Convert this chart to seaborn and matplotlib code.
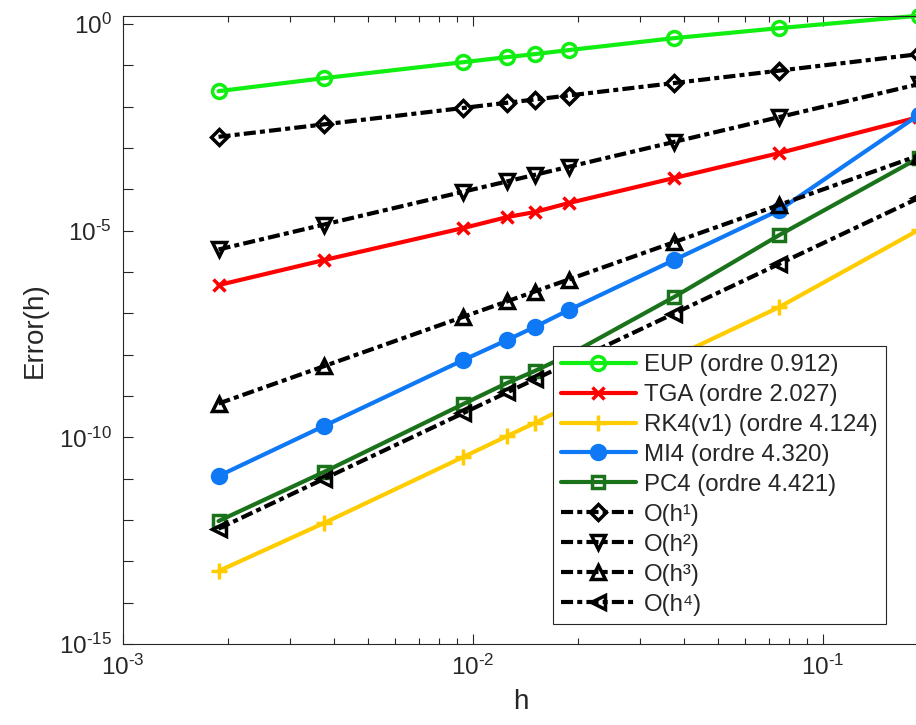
import numpy as np
import matplotlib
matplotlib.use('Agg')
import matplotlib.pyplot as plt
import seaborn as sns
from matplotlib.ticker import LogLocator, FixedLocator, FuncFormatter, NullFormatter, NullLocator

# step sizes h
h = [0.001875, 0.00375, 0.009375, 0.0125, 0.015, 0.01875, 0.0375, 0.075, 0.1875]

# errors of each scheme
err_eup = [0.0239, 0.0493, 0.120, 0.159, 0.188, 0.235, 0.458, 0.80, 1.6]
err_tga = [4.84e-7, 1.95e-6, 1.16e-5, 2.14e-5, 2.83e-5, 4.67e-5, 1.88e-4, 7.57e-4, 5.62e-3]
err_rk4 = [5.82e-14, 8.44e-13, 3.34e-11, 1.07e-10, 2.22e-10, 5.71e-10, 8.77e-9, 1.42e-7, 1.04e-5]
err_mi4 = [1.16e-11, 1.88e-10, 7.41e-9, 2.26e-8, 4.67e-8, 1.20e-7, 1.95e-6, 3.16e-5, 6.28e-3]
err_pc4 = [9.44e-13, 1.45e-11, 6.39e-10, 2.06e-9, 4.02e-9, 9.80e-9, 2.48e-7, 7.85e-6, 5.73e-4]

# reference slopes
ref_o1 = [1.875e-3, 3.75e-3, 9.375e-3, 1.25e-2, 1.5e-2, 1.875e-2, 3.75e-2, 7.5e-2, 1.875e-1]
ref_o2 = [3.52e-6, 1.41e-5, 8.79e-5, 1.56e-4, 2.25e-4, 3.52e-4, 1.41e-3, 5.63e-3, 3.52e-2]
ref_o3 = [6.59e-10, 5.27e-9, 8.24e-8, 1.95e-7, 3.38e-7, 6.59e-7, 5.27e-6, 4.22e-5, 6.59e-4]
ref_o4 = [6.18e-13, 9.89e-12, 3.86e-10, 1.22e-9, 2.53e-9, 6.18e-9, 9.89e-8, 1.58e-6, 6.18e-5]

labels = ['EUP (ordre 0.912)', 'TGA (ordre 2.027)', 'RK4(v1) (ordre 4.124)',
          'MI4 (ordre 4.320)', 'PC4 (ordre 4.421)',
          'O(h¹)', 'O(h²)', 'O(h³)', 'O(h⁴)']

sns.set_style('ticks')
plt.rcParams['font.family'] = ['Liberation Sans', 'DejaVu Sans']
plt.rcParams['mathtext.fontset'] = 'custom'
plt.rcParams['mathtext.rm'] = 'Liberation Sans'
plt.rcParams['mathtext.it'] = 'Liberation Sans:italic'
plt.rcParams['mathtext.bf'] = 'Liberation Sans:bold'
plt.rcParams['axes.unicode_minus'] = False

txt = '#262626'
dashdot = (0, (2.9, 1.0, 1.2, 1.0))

fig = plt.figure(figsize=(9.16, 7.25), dpi=100)
ax = fig.add_axes([123 / 916, 81 / 725, 795.5 / 916, 628.3 / 725])

# (values, label, color, marker, size, face, line style)
series = [
    (err_eup, labels[0], '#11ee11', 'o', 10, 'none', '-'),
    (err_tga, labels[1], '#ff0000', 'x', 9, 'none', '-'),
    (err_rk4, labels[2], '#ffcc00', '+', 11, 'none', '-'),
    (err_mi4, labels[3], '#0f78f5', 'o', 10, '#0f78f5', '-'),
    (err_pc4, labels[4], '#1a731a', 's', 9, 'none', '-'),
    (ref_o1, labels[5], 'black', 'D', 8, 'none', dashdot),
    (ref_o2, labels[6], 'black', 'v', 10, 'none', dashdot),
    (ref_o3, labels[7], 'black', '^', 10, 'none', dashdot),
    (ref_o4, labels[8], 'black', '<', 10, 'none', dashdot),
]

for vals, lab, col, mk, ms, mfc, ls in series:
    sns.lineplot(x=h, y=vals, ax=ax, color=col, marker=mk, markersize=ms,
                 markerfacecolor=mfc, markeredgecolor=col, markeredgewidth=2.5,
                 linewidth=3, linestyle=ls, label=lab, estimator=None,
                 sort=False, errorbar=None, clip_on=False)

ax.set_xscale('log')
ax.set_yscale('log')
ax.set_xlim(1e-3, 0.1875)
ax.set_ylim(1e-15, 1.6)

ax.xaxis.set_major_locator(LogLocator(base=10))
ax.xaxis.set_minor_locator(LogLocator(base=10, subs=np.arange(2, 10)))
ax.xaxis.set_minor_formatter(NullFormatter())


def xlab(v, pos):
    k = int(round(np.log10(v)))
    return '$\\mathdefault{10^{\\text{%d}}}$' % k


def ylab(v, pos):
    k = int(round(np.log10(v)))
    return '$\\mathdefault{10^{\\text{%d}}}$' % k if k % 5 == 0 else ''


ax.xaxis.set_major_formatter(FuncFormatter(xlab))
ax.yaxis.set_major_locator(FixedLocator([10.0 ** k for k in range(-15, 1)]))
ax.yaxis.set_minor_locator(NullLocator())
ax.yaxis.set_major_formatter(FuncFormatter(ylab))

ax.tick_params(which='both', direction='in', top=True, right=False,
               colors=txt, labelcolor=txt, width=0.8)
ax.tick_params(which='major', length=7, labelsize=17.5, pad=8)
ax.tick_params(which='minor', length=4)
for sp in ax.spines.values():
    sp.set_color(txt)
    sp.set_linewidth(0.8)

ax.set_xlabel('h', fontsize=20, color=txt, labelpad=6)
ax.set_ylabel('Error(h)', fontsize=20, color=txt, labelpad=8)

leg = ax.legend(loc='upper left', bbox_to_anchor=(552.7 / 916, 1 - 345.7 / 725),
                bbox_transform=fig.transFigure, borderaxespad=0, fontsize=17.3,
                frameon=True, fancybox=False, edgecolor=txt, framealpha=1,
                handlelength=3.1, handletextpad=0.35, labelspacing=0.33,
                borderpad=0.35)
leg.get_frame().set_linewidth(0.8)

fig.savefig('out.png', dpi=100)
